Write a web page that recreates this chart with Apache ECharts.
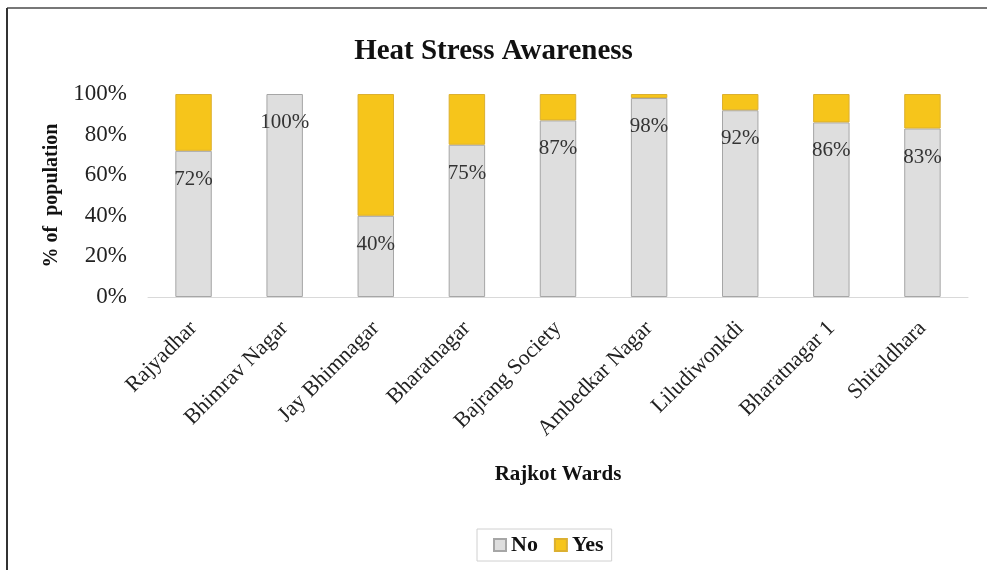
<!DOCTYPE html>
<html>
<head>
<meta charset="utf-8">
<script src="https://cdn.jsdelivr.net/npm/echarts@6/dist/echarts.min.js"></script>
<style>
    html, body { margin: 0; padding: 0; background: #fff; }
    #chart { width: 987px; height: 570px; }
</style>
</head>
<body>
<div id="chart"></div>
<script>
// wards on the x axis
const wards = ['Rajyadhar', 'Bhimrav Nagar', 'Jay Bhimnagar', 'Bharatnagar', 'Bajrang Society',
    'Ambedkar Nagar', 'Liludiwonkdi', 'Bharatnagar 1', 'Shitaldhara'];
// % answering No / Yes
const noValues = [72, 100, 40, 75, 87, 98, 92, 86, 83];
const yesValues = [28, 0, 60, 25, 13, 2, 8, 14, 17];
const yTicks = [0, 20, 40, 60, 80, 100];

const serif = '"Liberation Serif", "DejaVu Serif", serif';

let mychart = echarts.init(document.getElementById('chart'));
let option = {
    animation: false,
    textStyle: { fontFamily: serif },
    title: {
        text: 'Heat Stress Awareness',
        left: 'center',
        top: 32,
        textStyle: { fontFamily: serif, fontSize: 29, fontWeight: 'bold', color: '#111' }
    },
    legend: {
        top: 529,
        left: 477,
        padding: [5, 8, 5, 16],
        borderColor: '#d0d0d0',
        borderWidth: 1,
        icon: 'rect',
        itemWidth: 12,
        itemHeight: 12,
        itemGap: 16,
        textStyle: { fontFamily: serif, fontSize: 22, fontWeight: 'bold', color: '#111', padding: [0, 0, 0, 0] },
        data: ['No', 'Yes']
    },
    grid: { left: 148, right: 19, top: 94, bottom: 273 },
    xAxis: {
        type: 'category',
        data: wards,
        name: 'Rajkot Wards',
        nameLocation: 'middle',
        nameGap: 167,
        nameTextStyle: { fontFamily: serif, fontSize: 21, fontWeight: 'bold', color: '#111' },
        axisLine: { lineStyle: { color: '#d9d9d9', width: 1 } },
        axisTick: { show: false },
        axisLabel: { rotate: 45, margin: 28, fontFamily: serif, fontSize: 22, color: '#222', interval: 0 }
    },
    yAxis: {
        type: 'value',
        min: 0,
        max: 100,
        interval: 20,
        name: '% of  population',
        nameLocation: 'middle',
        nameGap: 86,
        nameTextStyle: { fontFamily: serif, fontSize: 20, fontWeight: 'bold', color: '#111' },
        splitLine: { show: false },
        axisLine: { show: false },
        axisTick: { show: false },
        axisLabel: {
            margin: 21,
            fontFamily: serif,
            fontSize: 23,
            color: '#222',
            formatter: v => (yTicks.indexOf(v) >= 0 ? v + '%' : '')
        }
    },
    graphic: [
        { type: 'line', shape: { x1: 7, y1: 8, x2: 987, y2: 8 }, style: { stroke: '#777', lineWidth: 2 } },
        { type: 'line', shape: { x1: 7, y1: 8, x2: 7, y2: 570 }, style: { stroke: '#333', lineWidth: 2 } }
    ],
    series: [
        {
            name: 'No',
            type: 'bar',
            stack: 'total',
            barWidth: '40%',
            data: noValues,
            itemStyle: { color: '#dedede', borderColor: '#a6a6a6', borderWidth: 1 },
            label: {
                show: true,
                position: 'insideTop',
                distance: 18,
                formatter: '{c}%',
                fontFamily: serif,
                fontSize: 21,
                color: '#333'
            }
        },
        {
            name: 'Yes',
            type: 'bar',
            stack: 'total',
            barWidth: '40%',
            // zero-height segments would still draw a border line, so skip them
            data: yesValues.map(v => (v === 0 ? '-' : v)),
            itemStyle: { color: '#f6c51b', borderColor: '#dcb030', borderWidth: 1 }
        }
    ]
};
mychart.setOption(option);
</script>
</body>
</html>
